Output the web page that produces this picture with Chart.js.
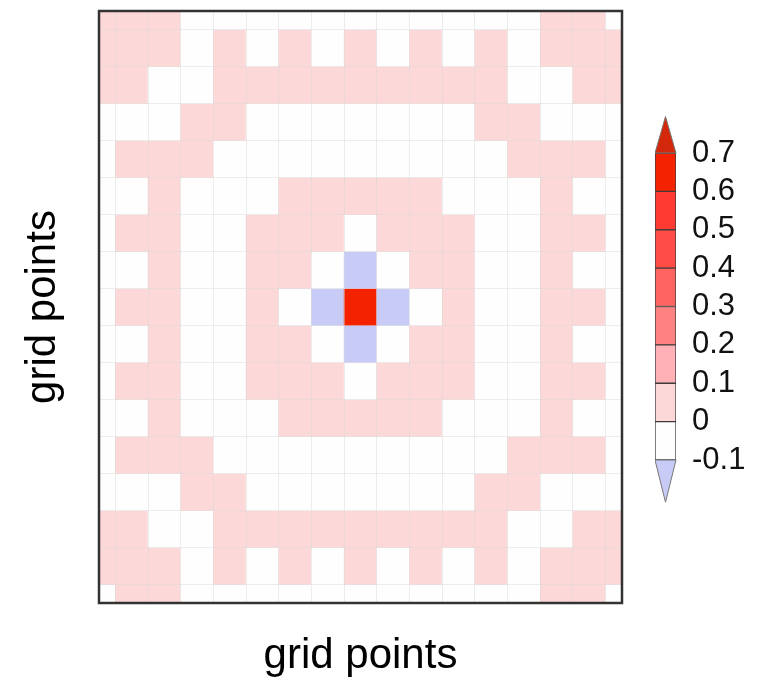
<!DOCTYPE html>
<html>
<head>
<meta charset="utf-8">
<script src="https://cdn.jsdelivr.net/npm/chart.js@4.4.1/dist/chart.umd.min.js"></script>
<style>
  html, body { margin: 0; padding: 0; background: #fff; }
  #main { position: absolute; left: 0; top: 0; width: 774px; height: 686px; }
  #bar { position: absolute; left: 655px; top: 113px; width: 119px; height: 392px; }
</style>
</head>
<body>
<div id="main"><canvas id="grid"></canvas></div>
<div id="bar"><canvas id="scale"></canvas></div>
<script>
// grid point positions (columns left->right, rows top->bottom)
const colPoints = [0, 1, 2, 3, 4, 5, 6, 7, 8, 9, 10, 11, 12, 13, 14, 15, 16];
const rowPoints = [0, 1, 2, 3, 4, 5, 6, 7, 8, 9, 10, 11, 12, 13, 14, 15, 16];

// field values, one row per list (top row first)
const cellValues = [
  [ .05, .05, .05,-.05,-.05,-.05,-.05,-.05,-.05,-.05,-.05,-.05,-.05,-.05, .05, .05,-.05],
  [ .05, .05, .05,-.05, .05,-.05, .05,-.05, .05,-.05, .05,-.05, .05,-.05, .05, .05, .05],
  [ .05, .05,-.05,-.05, .05, .05, .05, .05, .05, .05, .05, .05, .05,-.05,-.05, .05, .05],
  [-.05,-.05,-.05, .05, .05,-.05,-.05,-.05,-.05,-.05,-.05,-.05, .05, .05,-.05,-.05,-.05],
  [-.05, .05, .05, .05,-.05,-.05,-.05,-.05,-.05,-.05,-.05,-.05,-.05, .05, .05, .05,-.05],
  [-.05,-.05, .05,-.05,-.05,-.05, .05, .05, .05, .05, .05,-.05,-.05,-.05, .05,-.05,-.05],
  [-.05, .05, .05,-.05,-.05, .05, .05, .05,-.05, .05, .05, .05,-.05,-.05, .05, .05,-.05],
  [-.05,-.05, .05,-.05,-.05, .05, .05,-.05,-.15,-.05, .05, .05,-.05,-.05, .05,-.05,-.05],
  [-.05, .05, .05,-.05,-.05, .05,-.05,-.15, .65,-.15,-.05, .05,-.05,-.05, .05, .05,-.05],
  [-.05,-.05, .05,-.05,-.05, .05, .05,-.05,-.15,-.05, .05, .05,-.05,-.05, .05,-.05,-.05],
  [-.05, .05, .05,-.05,-.05, .05, .05, .05,-.05, .05, .05, .05,-.05,-.05, .05, .05,-.05],
  [-.05,-.05, .05,-.05,-.05,-.05, .05, .05, .05, .05, .05,-.05,-.05,-.05, .05,-.05,-.05],
  [-.05, .05, .05, .05,-.05,-.05,-.05,-.05,-.05,-.05,-.05,-.05,-.05, .05, .05, .05,-.05],
  [-.05,-.05,-.05, .05, .05,-.05,-.05,-.05,-.05,-.05,-.05,-.05, .05, .05,-.05,-.05,-.05],
  [ .05, .05,-.05,-.05, .05, .05, .05, .05, .05, .05, .05, .05, .05,-.05,-.05, .05, .05],
  [ .05, .05, .05,-.05, .05,-.05, .05,-.05, .05,-.05, .05,-.05, .05,-.05, .05, .05, .05],
  [-.05, .05, .05,-.05,-.05,-.05,-.05,-.05,-.05,-.05,-.05,-.05,-.05,-.05, .05, .05,-.05]
];

// colour bar levels (also the tick labels of the bar)
const levelBounds = [-0.1, 0, 0.1, 0.2, 0.3, 0.4, 0.5, 0.6, 0.7];
const levelColors = ['#fefefe', '#fdd8d8', '#ffb1b7', '#ff8282', '#ff6461', '#ff4c47', '#ff3a32', '#f52200'];
const underColor = '#c8cbf6';
const overColor = '#d3280b';
const underTip = -0.21;
const overTip = 0.795;

const fontFamily = "'Liberation Sans', Arial, Helvetica, sans-serif";

function colorFor(v) {
  if (v < levelBounds[0]) return underColor;
  for (let k = 0; k < levelColors.length; k++) {
    if (v < levelBounds[k + 1]) return levelColors[k];
  }
  return overColor;
}

// cell borders sit half way between grid points
const cellEdges = colPoints.slice(1).map(p => p - 0.5);

const datasets = cellValues.map((row, i) => ({
  data: row.map((v, j) => ({ x: colPoints[j], y: [rowPoints[i] - 0.5, rowPoints[i] + 0.5] })),
  backgroundColor: row.map(colorFor),
  borderWidth: 0,
  barPercentage: 1,
  categoryPercentage: 1,
  grouped: false,
  clip: 0
}));

const frame = {
  id: 'frame',
  afterDraw(chart) {
    const { ctx, chartArea: a } = chart;
    ctx.save();
    ctx.strokeStyle = '#333';
    ctx.lineWidth = 2.5;
    ctx.strokeRect(a.left, a.top, a.right - a.left, a.bottom - a.top);
    ctx.restore();
  }
};

const gridStyle = { color: 'rgba(215,215,215,0.45)', lineWidth: 1, offset: false, drawTicks: false, z: 1 };

new Chart(document.getElementById('grid'), {
  type: 'bar',
  data: { datasets },
  options: {
    responsive: true,
    maintainAspectRatio: false,
    animation: false,
    layout: { padding: { top: 11, right: 152, left: 0, bottom: 0 } },
    plugins: { legend: { display: false }, tooltip: { enabled: false } },
    scales: {
      x: {
        type: 'linear', min: 0, max: 16, offset: false,
        afterBuildTicks: s => { s.ticks = cellEdges.map(v => ({ value: v })); },
        afterFit: s => { s.height = 83; },
        ticks: { display: false },
        grid: gridStyle,
        border: { display: false },
        title: { display: true, text: 'grid points', color: '#000', font: { family: fontFamily, size: 42 }, padding: { top: 0, bottom: 4 } }
      },
      y: {
        type: 'linear', min: 0, max: 16, reverse: true,
        afterBuildTicks: s => { s.ticks = cellEdges.map(v => ({ value: v })); },
        afterFit: s => { s.width = 99; },
        ticks: { display: false },
        grid: gridStyle,
        border: { display: false },
        title: { display: true, text: 'grid points', color: '#000', font: { family: fontFamily, size: 42 }, padding: { top: 18, bottom: 0 } }
      }
    }
  },
  plugins: [frame]
});

// colour bar
const arrows = {
  id: 'arrows',
  afterDatasetsDraw(chart) {
    const { ctx, chartArea: a, scales: { y } } = chart;
    const mid = (a.left + a.right) / 2;
    const tri = (base, tip, color) => {
      ctx.beginPath();
      ctx.moveTo(a.left, y.getPixelForValue(base));
      ctx.lineTo(mid, y.getPixelForValue(tip));
      ctx.lineTo(a.right, y.getPixelForValue(base));
      ctx.closePath();
      ctx.fillStyle = color;
      ctx.fill();
      ctx.strokeStyle = '#777';
      ctx.lineWidth = 1;
      ctx.stroke();
    };
    ctx.save();
    tri(levelBounds[levelBounds.length - 1], overTip, overColor);
    tri(levelBounds[0], underTip, underColor);
    ctx.restore();
  }
};

new Chart(document.getElementById('scale'), {
  type: 'bar',
  data: {
    labels: [''],
    datasets: levelColors.map((c, k) => ({
      data: [[levelBounds[k], levelBounds[k + 1]]],
      backgroundColor: c,
      borderColor: '#3c3c3c',
      borderWidth: 1,
      borderSkipped: false,
      grouped: false,
      barPercentage: 1,
      categoryPercentage: 1
    }))
  },
  options: {
    responsive: true,
    maintainAspectRatio: false,
    animation: false,
    layout: { padding: { top: 40, bottom: 45, left: 0, right: 0 } },
    plugins: { legend: { display: false }, tooltip: { enabled: false } },
    scales: {
      x: { display: false },
      y: {
        position: 'right', min: levelBounds[0], max: levelBounds[levelBounds.length - 1],
        afterBuildTicks: s => { s.ticks = levelBounds.map(v => ({ value: v })); },
        afterFit: s => { s.width = 98; },
        ticks: {
          padding: 16, color: '#111', autoSkip: false,
          font: { family: fontFamily, size: 31 },
          callback: v => String(Math.round(v * 10) / 10)
        },
        grid: { display: false, drawTicks: false },
        border: { display: false }
      }
    }
  },
  plugins: [arrows]
});
</script>
</body>
</html>
